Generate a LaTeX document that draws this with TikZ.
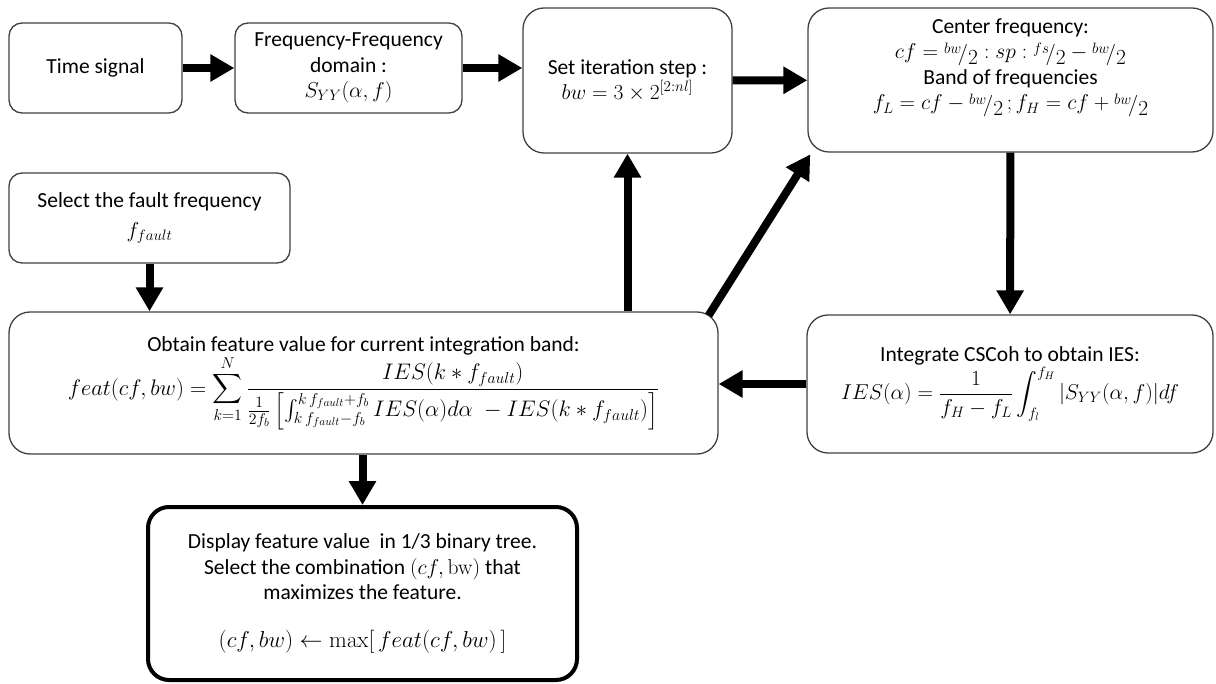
\RequirePackage{fix-cm}
\documentclass[tikz,border=0pt]{standalone}
\usepackage{amsmath}
\usepackage[no-math]{fontspec}
\setmainfont{Carlito}
\usetikzlibrary{arrows.meta}
\newcommand{\hfrac}[2]{\mathord{\raisebox{0.55ex}{$\scriptstyle #1$}\!\raisebox{-0.2ex}{$/$}\raisebox{-0.55ex}{$#2$}}}

\begin{document}
\begin{tikzpicture}[x=1pt,y=-1pt]
		\tikzstyle{every node}+=[font=\fontsize{21.5}{25.5}\selectfont]
		\tikzstyle{box}=[draw=black!75, line width=1.3pt, rounded corners=13pt, align=center, inner sep=0pt]
		\tikzstyle{bigbox}=[box, rounded corners=21pt]
		\tikzstyle{flow}=[line width=8pt, -{Triangle[length=24pt,width=26pt]}]
		\useasboundingbox (0,0) rectangle (1216,684);
		\node [box, minimum width=173pt, minimum height=90pt] (time) at (95.5,68) {Time signal};
		\node [box, minimum width=227pt, minimum height=90pt] (ff) at (348.5,68) {Frequency-Frequency\\domain :\\$S_{YY}(\alpha,f)$};
		\node [bigbox, minimum width=209pt, minimum height=145pt] (step) at (627.5,80.5) {Set iteration step :\\$bw = 3\times 2^{[2:nl]}$};
		\node [bigbox, minimum width=405pt, minimum height=144pt] (center) at (1010.5,80) {Center frequency:\\$cf = \hfrac{bw}{2} : sp : \hfrac{fs}{2} - \hfrac{bw}{2}$\\Band of frequencies\\$f_L = cf - \hfrac{bw}{2}\,; f_H = cf + \hfrac{bw}{2}$\\[6pt]};
		\node [box, minimum width=281pt, minimum height=90pt] (fault) at (149.5,218) {Select the fault frequency\\[4pt]$f_{fault}$};
		\node [bigbox, minimum width=709pt, minimum height=142pt] (feat) at (363.5,383) {Obtain feature value for current integration band:\\{\fontsize{22.5}{27}\selectfont$\displaystyle feat(cf,bw) = \sum_{k=1}^{N}\frac{IES(k*f_{fault})}{\frac{1}{2f_b}\left[\int_{k\,f_{fault}-f_b}^{k\,f_{fault}+f_b} IES(\alpha)d\alpha\;-IES(k*f_{fault})\right]}$}};
		\node [bigbox, minimum width=406pt, minimum height=138pt] (ies) at (1010,384) {Integrate CSCoh to obtain IES:\\$\displaystyle IES(\alpha) = \frac{1}{f_H-f_L}\int_{f_l}^{f_H}|S_{YY}(\alpha,f)|df$};
		\node [bigbox, line width=4pt, draw=black, minimum width=429pt, minimum height=173pt] (disp) at (362.5,593.5) {Display feature value \ in 1/3 binary tree.\\Select the combination $(cf,\mathrm{bw})$ that\\maximizes the feature.\\[22pt]{\fontsize{23}{27}\selectfont$(cf,bw) \leftarrow \max[\,feat(cf,bw)\,]$}};
		\draw [flow] (time) -- (ff);
		\draw [flow] (ff.east) -- (ff.east -| step.west);
		\draw [flow] (step) -- (center);
		\draw [flow] (center) -- (ies);
		\draw [flow] (ies.west) -- (ies.west -| feat.east);
		\draw [flow] (fault) -- (fault.south |- feat.north);
		\draw [flow] (step.south |- feat.north) -- (step);
		\draw [flow, shorten >=2pt] ([xshift=-10pt,yshift=-4pt]feat.north east) -- ([xshift=4pt]center.south west);
		\draw [flow] (disp.north |- feat.south) -- (disp);
\end{tikzpicture}
\end{document}
